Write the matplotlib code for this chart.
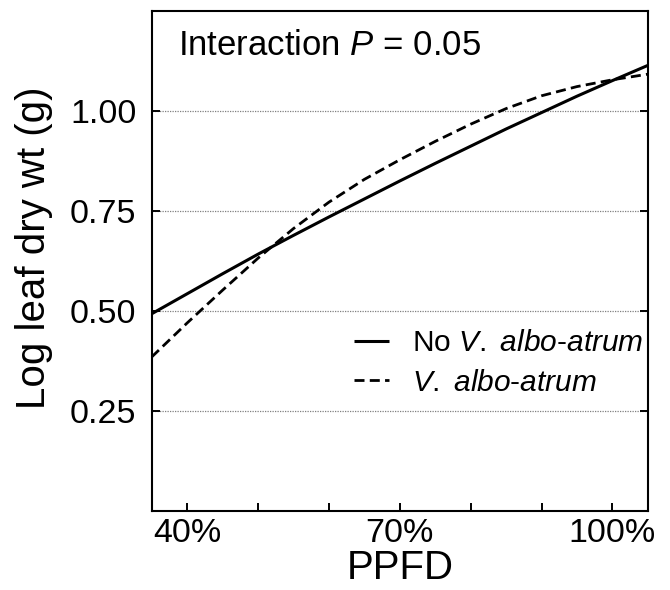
import numpy as np
import matplotlib
matplotlib.use("Agg")
import matplotlib.pyplot as plt

plt.rcParams["font.family"] = ["Liberation Sans", "DejaVu Sans"]
plt.rcParams["mathtext.fontset"] = "custom"
plt.rcParams["mathtext.rm"] = "Liberation Sans"
plt.rcParams["mathtext.it"] = "Liberation Sans:italic"

# PPFD (% of full light) and fitted log leaf dry weight
ppfd = [35, 40, 45, 50, 55, 60, 65, 70, 75, 80, 85, 90, 95, 100, 105]
no_va = [0.493, 0.543, 0.593, 0.642, 0.689, 0.735, 0.780, 0.825, 0.869, 0.912,
         0.955, 0.996, 1.037, 1.076, 1.114]
with_va = [0.385, 0.470, 0.552, 0.632, 0.706, 0.772, 0.829, 0.878, 0.924, 0.967,
           1.006, 1.038, 1.061, 1.078, 1.092]

xticks = [40, 50, 60, 70, 80, 90, 100]
xticklabels = ["40%", "", "", "70%", "", "", "100%"]
yticks = [0.25, 0.50, 0.75, 1.00]
yticklabels = ["0.25", "0.50", "0.75", "1.00"]

fig = plt.figure(figsize=(6.7, 5.9), dpi=100)
ax = fig.add_axes([0.2264, 0.1339, 0.7406, 0.8475])

ax.plot(ppfd, no_va, color="black", lw=2.2, solid_capstyle="butt",
        label=r"No $\mathit{V.}$ $\mathit{albo}$-$\mathit{atrum}$")
ax.plot(ppfd, with_va, color="black", lw=2.0, dashes=(3.6, 1.9),
        label=r"$\mathit{V.}$ $\mathit{albo}$-$\mathit{atrum}$")

for y in yticks:
    ax.axhline(y, color="#808080", lw=0.9, ls=(0, (1, 1)), zorder=0)

ax.set_xlim(35, 105)
ax.set_ylim(0, 1.25)
ax.set_xticks(xticks)
ax.set_xticklabels(xticklabels)
ax.set_yticks(yticks)
ax.set_yticklabels(yticklabels)

for s in ax.spines.values():
    s.set_linewidth(1.5)
ax.tick_params(axis="both", direction="in", length=5.5, width=1.4,
               labelsize=24.5)
ax.tick_params(axis="x", pad=5)
ax.tick_params(axis="y", right=True, pad=11)

ax.set_xlabel("PPFD", fontsize=29, labelpad=0)
ax.set_ylabel("Log leaf dry wt (g)", fontsize=29)
ax.yaxis.set_label_coords(-0.199, 0.526)

ax.text(0.053, 0.912, r"Interaction $P$ = 0.05", transform=ax.transAxes,
        fontsize=25, va="baseline", ha="left")

ax.legend(loc="center left", bbox_to_anchor=(0.407, 0.296), frameon=False,
          fontsize=21.5, handlelength=1.2, handletextpad=0.75,
          labelspacing=0.38, borderpad=0, borderaxespad=0)

fig.savefig("out.png", dpi=100)
